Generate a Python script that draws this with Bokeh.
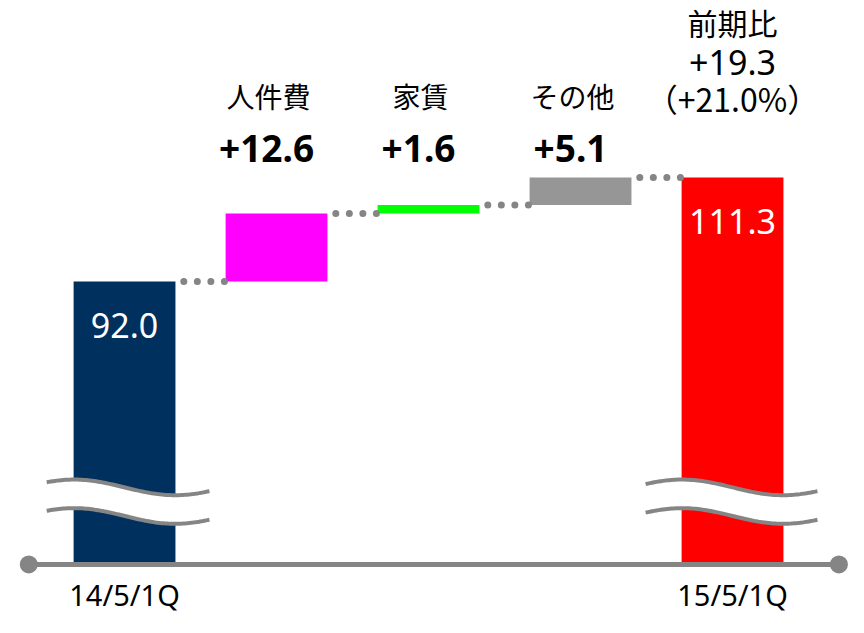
import numpy as np
from bokeh.plotting import figure
from bokeh.models import Range1d
from bokeh.embed import file_html
from bokeh.resources import INLINE
from bokeh.core.properties import value

# ---------------- data ----------------
period_labels = ["14/5/1Q", "15/5/1Q"]
start_value = 92.0
end_value = 111.3
item_labels = ["人件費", "家賃", "その他"]
item_deltas = [12.6, 1.6, 5.1]
comparison_title = "前期比"
comparison_abs = 19.3
comparison_pct = 21.0

bar_colors = ["#00305E", "#FF00FF", "#00FF00", "#969696", "#FF0000"]

# ---------------- layout constants ----------------
AXIS_BASE = 39.5          # value where the (broken) baseline is drawn
BAR_W = 0.67
GRAY = "#858585"
NUM_FONT = value("Noto Sans")
JP_FONT = value("Noto Sans CJK JP")

# ---------------- derived ----------------
levels = [start_value]
for d in item_deltas:
    levels.append(round(levels[-1] + d, 1))
xs = list(range(len(item_deltas) + 2))
tops = [start_value] + levels[1:] + [end_value]
bottoms = [AXIS_BASE] + levels[:-1] + [AXIS_BASE]

p = figure(width=848, height=617, output_backend="svg", toolbar_location=None,
           x_range=Range1d(-0.816, 4.763), y_range=Range1d(29.66, 144.13),
           min_border=0)
p.axis.visible = False
p.grid.visible = False
p.outline_line_color = None
p.background_fill_color = "white"

# bars
p.vbar(x=xs, bottom=bottoms, top=tops, width=BAR_W, fill_color=bar_colors,
       line_color=None)

# dotted connectors
cx, cy = [], []
for i in range(len(xs) - 1):
    for k in range(4):
        cx.append(xs[i] + 0.39 + k * 0.089)
        cy.append(tops[i])
p.scatter(cx, cy, size=7, color=GRAY, line_color=None)

# axis-break waves on the first and last bars
def wave(center_x, c, t0, t1):
    t = np.linspace(t0, t1, 80)
    x = center_x + (t - 0.5) * 0.665
    y = c + 1.45 * np.cos(np.pi * t)
    return x, y

for bx, t0 in ((xs[0], -0.27), (xs[-1], -0.36)):
    ux, uy = wave(bx, 53.8, t0, 1.34)
    lx, ly = wave(bx, 48.5, t0, 1.34)
    p.patch(np.concatenate([ux, lx[::-1]]), np.concatenate([uy, ly[::-1]]),
            fill_color="white", line_color=None)
    p.line(ux, uy, line_color=GRAY, line_width=4)
    p.line(lx, ly, line_color=GRAY, line_width=4)

# baseline with end dots
p.line([-0.63, 4.70], [AXIS_BASE, AXIS_BASE], line_color=GRAY, line_width=5)
p.scatter([-0.63, 4.70], [AXIS_BASE, AXIS_BASE], size=18, color=GRAY,
          line_color=None)

# value labels inside end bars
p.text(x=[xs[0], xs[-1]], y=[tops[0], tops[-1]],
       text=[f"{start_value:.1f}", f"{end_value:.1f}"], y_offset=44,
       text_color="white", text_font=NUM_FONT, text_font_size="34px",
       text_align="center", text_baseline="middle")

# period labels
p.text(x=[xs[0], xs[-1]], y=[33.9, 33.9], text=period_labels,
       text_color="black", text_font=NUM_FONT, text_font_size="29px",
       text_align="center", text_baseline="middle")

# item labels and deltas
mid_x = xs[1:-1]
p.text(x=mid_x, y=[126.5] * 3, text=item_labels, x_offset=-8,
       text_color="black", text_font=JP_FONT, text_font_size="28px",
       text_align="center", text_baseline="middle")
p.text(x=mid_x, y=[116.7] * 3, text=[f"+{d:.1f}" for d in item_deltas],
       x_offset=-10, text_color="black", text_font=NUM_FONT,
       text_font_size="37px", text_font_style="bold",
       text_align="center", text_baseline="middle")

# comparison block
p.text(x=[xs[-1]], y=[140.05], text=[comparison_title], text_color="black",
       text_font=JP_FONT, text_font_size="30px", text_align="center",
       text_baseline="middle")
p.text(x=[xs[-1]], y=[132.6], text=[f"+{comparison_abs:.1f}"],
       text_color="black", text_font=NUM_FONT, text_font_size="34px",
       text_align="center", text_baseline="middle")
p.text(x=[xs[-1]], y=[125.95], text=[f"（+{comparison_pct:.1f}%）"],
       text_color="black", text_font=JP_FONT, text_font_size="32px",
       text_align="center", text_baseline="middle")

open("out.html", "w").write(file_html(p, INLINE))
